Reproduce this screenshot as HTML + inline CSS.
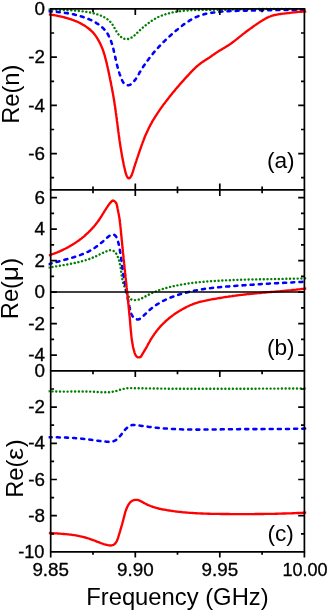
<!DOCTYPE html>
<html><head><meta charset="utf-8"><title>Re(n), Re(mu), Re(eps) vs Frequency</title>
<style>
html,body{margin:0;padding:0;background:#fff;}
body{width:327px;height:610px;overflow:hidden;position:relative;font-family:"Liberation Sans",sans-serif;}
</style></head><body>
<svg width="327" height="610" viewBox="0 0 327 610" style="display:block;position:absolute;left:0;top:0;will-change:transform">
<rect width="327" height="610" fill="#fff"/>
<clipPath id="clipa"><rect x="48.6" y="6.9" width="257.9" height="184.9"/></clipPath>
<clipPath id="clipb"><rect x="48.6" y="187.8" width="257.9" height="185.09999999999997"/></clipPath>
<clipPath id="clipc"><rect x="48.6" y="368.9" width="257.9" height="185.0"/></clipPath>
<g clip-path="url(#clipa)" fill="none" stroke-linejoin="round">
<path d="M48.7,9.5 L50.7,9.6 L51.9,9.6 L53.1,9.7 L54.3,9.7 L55.5,9.8 L56.7,9.8 L57.9,9.9 L59.1,9.9 L60.3,9.9 L61.5,10.0 L62.7,10.0 L63.9,10.0 L65.1,10.1 L66.3,10.1 L67.5,10.2 L68.7,10.2 L69.8,10.3 L71.0,10.3 L72.2,10.4 L73.4,10.5 L74.6,10.6 L75.8,10.7 L76.9,10.8 L78.1,10.9 L79.3,11.0 L80.5,11.1 L81.7,11.2 L82.9,11.4 L84.1,11.5 L85.2,11.7 L86.4,11.9 L87.6,12.1 L88.8,12.3 L90.0,12.5 L91.2,12.8 L92.4,13.0 L93.6,13.3 L94.8,13.6 L96.0,13.9 L97.1,14.3 L98.3,14.6 L99.4,15.0 L100.5,15.5 L101.6,15.9 L102.7,16.4 L103.8,17.0 L104.8,17.5 L105.8,18.2 L106.8,18.8 L107.7,19.5 L108.6,20.2 L109.5,21.0 L110.3,21.8 L111.1,22.7 L111.8,23.7 L112.5,24.6 L113.1,25.7 L113.8,26.7 L114.4,27.8 L115.0,28.9 L115.6,30.0 L116.2,31.0 L116.8,32.1 L117.5,33.1 L118.2,34.1 L119.0,35.0 L119.8,35.9 L120.6,36.7 L121.6,37.4 L122.6,38.1 L123.7,38.6 L124.8,39.0 L126.0,39.2 L127.2,39.2 L128.4,39.0 L129.5,38.6 L130.6,38.1 L131.7,37.5 L132.7,36.9 L133.6,36.1 L134.5,35.4 L135.4,34.6 L136.3,33.7 L137.1,32.9 L138.0,32.1 L138.9,31.3 L139.8,30.4 L140.6,29.6 L141.5,28.8 L142.4,28.0 L143.3,27.2 L144.3,26.4 L145.2,25.6 L146.1,24.9 L147.1,24.1 L148.0,23.4 L149.0,22.7 L149.9,22.0 L150.9,21.3 L151.9,20.6 L152.9,20.0 L153.9,19.4 L155.0,18.8 L156.0,18.2 L157.1,17.6 L158.1,17.1 L159.2,16.6 L160.3,16.1 L161.4,15.7 L162.5,15.3 L163.7,14.9 L164.8,14.5 L165.9,14.1 L167.1,13.8 L168.2,13.5 L169.4,13.2 L170.6,12.9 L171.7,12.6 L172.9,12.3 L174.1,12.1 L175.3,11.9 L176.4,11.7 L177.6,11.5 L178.8,11.3 L180.0,11.2 L181.2,11.0 L182.4,10.9 L183.6,10.8 L184.8,10.7 L186.0,10.6 L187.1,10.5 L188.3,10.4 L189.5,10.3 L190.7,10.3 L191.9,10.2 L193.1,10.1 L194.3,10.1 L195.5,10.1 L196.7,10.0 L197.9,10.0 L199.1,10.0 L200.3,10.0 L201.5,10.0 L202.7,9.9 L203.9,9.9 L205.1,9.9 L206.3,9.9 L207.5,9.9 L208.7,9.9 L209.9,9.9 L211.1,9.9 L212.3,9.9 L213.5,9.8 L214.7,9.8 L215.8,9.8 L217.0,9.8 L218.2,9.8 L219.4,9.8 L220.6,9.7 L221.8,9.7 L223.0,9.7 L224.2,9.7 L225.4,9.7 L226.6,9.6 L227.8,9.6 L229.0,9.6 L230.2,9.6 L231.4,9.6 L232.6,9.5 L233.8,9.5 L235.0,9.5 L236.2,9.5 L237.4,9.4 L238.6,9.4 L239.8,9.4 L241.0,9.4 L242.2,9.3 L243.4,9.3 L244.6,9.3 L245.8,9.3 L247.0,9.2 L248.2,9.2 L249.3,9.2 L250.5,9.2 L251.7,9.2 L252.9,9.1 L254.1,9.1 L255.3,9.1 L256.5,9.1 L257.7,9.1 L258.9,9.0 L260.1,9.0 L261.3,9.0 L262.5,9.0 L263.7,9.0 L264.9,9.0 L266.1,9.0 L267.3,8.9 L268.5,8.9 L269.7,8.9 L270.9,8.9 L272.1,8.9 L273.3,8.9 L274.5,8.9 L275.7,8.9 L276.9,8.9 L278.1,8.9 L279.3,8.9 L280.5,8.9 L281.7,8.9 L282.8,8.9 L284.0,9.0 L285.2,9.0 L286.4,9.0 L287.6,9.0 L288.8,9.0 L290.0,9.0 L291.2,9.1 L292.4,9.1 L293.6,9.1 L294.8,9.2 L296.0,9.2 L297.2,9.2 L298.4,9.3 L299.6,9.3 L300.8,9.4 L302.0,9.4 L303.2,9.4 L304.4,9.5 L306.4,9.6" stroke="#008000" stroke-width="2.4" stroke-dasharray="0.1 3.67" stroke-linecap="round"/>
<path d="M48.7,11.3 L50.7,11.5 L51.9,11.6 L53.1,11.6 L54.3,11.7 L55.5,11.8 L56.7,12.0 L57.9,12.1 L59.1,12.2 L60.3,12.3 L61.4,12.5 L62.6,12.6 L63.8,12.7 L65.0,12.9 L66.2,13.1 L67.4,13.3 L68.6,13.5 L69.7,13.7 L70.9,13.9 L72.1,14.1 L73.3,14.3 L74.4,14.6 L75.6,14.9 L76.8,15.1 L77.9,15.4 L79.1,15.7 L80.2,16.1 L81.4,16.4 L82.5,16.8 L83.7,17.2 L84.8,17.6 L85.9,18.0 L87.0,18.4 L88.2,18.9 L89.3,19.3 L90.4,19.8 L91.5,20.3 L92.6,20.9 L93.6,21.4 L94.7,22.0 L95.7,22.6 L96.8,23.3 L97.8,23.9 L98.8,24.6 L99.7,25.3 L100.7,26.1 L101.6,26.8 L102.5,27.6 L103.3,28.4 L104.2,29.3 L104.9,30.2 L105.7,31.1 L106.4,32.0 L107.1,33.0 L107.7,34.0 L108.3,35.0 L108.8,36.1 L109.4,37.1 L109.9,38.2 L110.3,39.3 L110.8,40.5 L111.2,41.6 L111.6,42.8 L112.0,44.0 L112.3,45.1 L112.6,46.3 L113.0,47.5 L113.3,48.7 L113.6,49.9 L113.8,51.1 L114.1,52.3 L114.4,53.4 L114.6,54.6 L114.9,55.8 L115.2,56.9 L115.4,58.1 L115.7,59.2 L115.9,60.4 L116.2,61.5 L116.5,62.6 L116.7,63.8 L117.0,64.9 L117.3,66.0 L117.6,67.2 L117.9,68.3 L118.2,69.5 L118.6,70.6 L118.9,71.7 L119.3,72.9 L119.7,74.1 L120.1,75.2 L120.5,76.4 L121.0,77.6 L121.4,78.8 L121.9,80.0 L122.5,81.1 L123.1,82.2 L123.8,83.2 L124.6,84.0 L125.5,84.7 L126.5,85.1 L127.6,85.3 L128.7,85.3 L129.7,84.9 L130.8,84.4 L131.8,83.6 L132.7,82.7 L133.5,81.8 L134.3,80.9 L135.1,79.9 L135.8,78.9 L136.4,77.9 L137.0,76.9 L137.7,75.8 L138.3,74.8 L138.9,73.8 L139.5,72.7 L140.1,71.7 L140.8,70.7 L141.4,69.7 L142.0,68.6 L142.7,67.6 L143.3,66.6 L144.0,65.6 L144.7,64.6 L145.4,63.6 L146.0,62.6 L146.7,61.6 L147.4,60.7 L148.2,59.7 L148.9,58.7 L149.6,57.8 L150.3,56.8 L151.1,55.9 L151.8,55.0 L152.6,54.1 L153.3,53.1 L154.1,52.2 L154.9,51.3 L155.7,50.4 L156.4,49.5 L157.2,48.6 L158.0,47.8 L158.8,46.9 L159.7,46.0 L160.5,45.1 L161.3,44.3 L162.1,43.4 L163.0,42.6 L163.8,41.7 L164.7,40.9 L165.5,40.1 L166.4,39.2 L167.3,38.4 L168.1,37.6 L169.0,36.8 L169.9,36.0 L170.8,35.2 L171.7,34.4 L172.6,33.6 L173.5,32.8 L174.4,32.0 L175.3,31.2 L176.2,30.4 L177.2,29.7 L178.1,28.9 L179.0,28.1 L180.0,27.4 L180.9,26.6 L181.9,25.9 L182.8,25.1 L183.8,24.4 L184.8,23.7 L185.8,23.0 L186.8,22.4 L187.8,21.7 L188.8,21.1 L189.8,20.4 L190.8,19.8 L191.9,19.2 L192.9,18.7 L194.0,18.1 L195.0,17.6 L196.1,17.1 L197.2,16.6 L198.3,16.2 L199.4,15.7 L200.5,15.3 L201.6,15.0 L202.8,14.6 L203.9,14.3 L205.1,14.0 L206.3,13.7 L207.4,13.5 L208.6,13.3 L209.8,13.1 L211.0,12.9 L212.2,12.7 L213.4,12.5 L214.6,12.4 L215.8,12.2 L217.0,12.1 L218.2,12.0 L219.4,11.8 L220.6,11.7 L221.8,11.6 L223.0,11.5 L224.2,11.5 L225.4,11.4 L226.6,11.3 L227.8,11.2 L228.9,11.2 L230.1,11.1 L231.3,11.0 L232.5,11.0 L233.7,10.9 L234.9,10.9 L236.1,10.9 L237.3,10.8 L238.5,10.8 L239.7,10.7 L240.9,10.7 L242.1,10.7 L243.3,10.6 L244.5,10.6 L245.7,10.6 L246.9,10.6 L248.1,10.5 L249.3,10.5 L250.5,10.5 L251.7,10.4 L252.9,10.4 L254.1,10.4 L255.3,10.4 L256.5,10.3 L257.7,10.3 L258.9,10.3 L260.0,10.3 L261.2,10.3 L262.4,10.2 L263.6,10.2 L264.8,10.2 L266.0,10.2 L267.2,10.2 L268.4,10.1 L269.6,10.1 L270.8,10.1 L272.0,10.1 L273.2,10.1 L274.4,10.1 L275.6,10.1 L276.8,10.0 L278.0,10.0 L279.2,10.0 L280.4,10.0 L281.6,10.0 L282.8,10.0 L284.0,10.0 L285.2,9.9 L286.4,9.9 L287.6,9.9 L288.8,9.9 L290.0,9.9 L291.2,9.9 L292.4,9.9 L293.6,9.9 L294.8,9.9 L296.0,9.9 L297.2,9.9 L298.4,9.8 L299.6,9.8 L300.8,9.8 L302.0,9.8 L303.2,9.8 L304.4,9.8 L306.4,9.8" stroke="#0000ff" stroke-width="2.55" stroke-dasharray="3.0 5.15" stroke-linecap="round"/>
<path d="M48.7,14.4 L50.7,14.7 L51.9,14.9 L53.1,15.0 L54.2,15.2 L55.4,15.4 L56.6,15.6 L57.8,15.9 L59.0,16.1 L60.1,16.3 L61.3,16.6 L62.5,16.9 L63.6,17.2 L64.8,17.5 L66.0,17.8 L67.1,18.1 L68.3,18.5 L69.4,18.8 L70.6,19.2 L71.7,19.6 L72.8,20.0 L73.9,20.4 L75.1,20.9 L76.2,21.3 L77.3,21.8 L78.4,22.3 L79.4,22.8 L80.5,23.4 L81.6,23.9 L82.6,24.5 L83.7,25.1 L84.7,25.7 L85.7,26.4 L86.7,27.1 L87.6,27.8 L88.6,28.5 L89.5,29.2 L90.4,30.0 L91.3,30.8 L92.1,31.7 L93.0,32.5 L93.8,33.4 L94.5,34.4 L95.3,35.3 L96.0,36.3 L96.7,37.3 L97.3,38.3 L97.9,39.4 L98.5,40.4 L99.1,41.5 L99.7,42.6 L100.2,43.6 L100.7,44.7 L101.2,45.8 L101.7,46.9 L102.1,48.0 L102.6,49.1 L103.0,50.2 L103.4,51.4 L103.7,52.5 L104.1,53.6 L104.5,54.8 L104.8,55.9 L105.1,57.1 L105.4,58.2 L105.7,59.4 L106.0,60.5 L106.3,61.7 L106.6,62.9 L106.9,64.0 L107.1,65.2 L107.4,66.4 L107.7,67.5 L107.9,68.7 L108.2,69.9 L108.4,71.1 L108.7,72.2 L108.9,73.4 L109.2,74.6 L109.4,75.8 L109.7,76.9 L109.9,78.1 L110.1,79.3 L110.4,80.5 L110.6,81.6 L110.9,82.8 L111.1,84.0 L111.3,85.2 L111.6,86.4 L111.8,87.5 L112.0,88.7 L112.2,89.9 L112.4,91.1 L112.7,92.2 L112.9,93.4 L113.1,94.6 L113.3,95.8 L113.5,97.0 L113.7,98.1 L113.9,99.3 L114.1,100.5 L114.3,101.7 L114.5,102.9 L114.6,104.1 L114.8,105.2 L115.0,106.4 L115.2,107.6 L115.3,108.8 L115.5,110.0 L115.7,111.2 L115.8,112.4 L116.0,113.5 L116.2,114.7 L116.3,115.9 L116.5,117.1 L116.6,118.3 L116.8,119.5 L116.9,120.7 L117.1,121.9 L117.3,123.0 L117.4,124.2 L117.6,125.4 L117.7,126.6 L117.9,127.8 L118.0,129.0 L118.2,130.2 L118.3,131.4 L118.5,132.5 L118.7,133.7 L118.8,134.9 L119.0,136.1 L119.1,137.3 L119.3,138.5 L119.5,139.7 L119.6,140.9 L119.8,142.0 L120.0,143.2 L120.2,144.4 L120.3,145.6 L120.5,146.8 L120.7,148.0 L120.9,149.1 L121.1,150.3 L121.3,151.5 L121.5,152.7 L121.7,153.9 L121.9,155.1 L122.1,156.2 L122.3,157.4 L122.5,158.6 L122.8,159.8 L123.0,161.0 L123.2,162.1 L123.5,163.3 L123.7,164.5 L124.0,165.7 L124.2,166.8 L124.5,168.0 L124.8,169.2 L125.0,170.4 L125.3,171.5 L125.6,172.7 L126.0,173.9 L126.4,175.0 L126.9,176.2 L127.5,177.3 L128.3,178.1 L129.0,178.4 L129.8,178.0 L130.5,177.1 L131.2,176.0 L131.8,174.9 L132.2,173.7 L132.6,172.5 L133.0,171.4 L133.3,170.2 L133.7,169.0 L134.0,167.8 L134.4,166.7 L134.8,165.6 L135.1,164.4 L135.5,163.3 L135.9,162.2 L136.3,161.0 L136.6,159.9 L137.0,158.8 L137.4,157.7 L137.8,156.5 L138.2,155.4 L138.5,154.3 L138.9,153.1 L139.3,152.0 L139.7,150.9 L140.1,149.7 L140.5,148.6 L140.9,147.5 L141.3,146.3 L141.7,145.2 L142.1,144.1 L142.5,142.9 L142.9,141.8 L143.4,140.7 L143.8,139.6 L144.2,138.5 L144.7,137.3 L145.1,136.2 L145.6,135.1 L146.1,134.0 L146.6,132.9 L147.1,131.8 L147.6,130.7 L148.1,129.7 L148.6,128.6 L149.1,127.5 L149.7,126.4 L150.2,125.4 L150.8,124.3 L151.4,123.3 L151.9,122.2 L152.5,121.2 L153.1,120.2 L153.8,119.1 L154.4,118.1 L155.0,117.1 L155.6,116.1 L156.3,115.1 L156.9,114.1 L157.6,113.1 L158.3,112.1 L158.9,111.1 L159.6,110.1 L160.3,109.1 L161.0,108.1 L161.7,107.1 L162.4,106.2 L163.1,105.2 L163.8,104.2 L164.6,103.3 L165.3,102.3 L166.0,101.4 L166.7,100.4 L167.5,99.5 L168.2,98.5 L168.9,97.6 L169.7,96.6 L170.4,95.7 L171.2,94.8 L171.9,93.8 L172.7,92.9 L173.4,92.0 L174.2,91.1 L175.0,90.2 L175.7,89.2 L176.5,88.3 L177.3,87.4 L178.1,86.5 L178.9,85.6 L179.6,84.7 L180.4,83.8 L181.2,82.9 L182.0,82.0 L182.8,81.1 L183.6,80.2 L184.4,79.3 L185.2,78.4 L186.0,77.5 L186.8,76.6 L187.6,75.8 L188.5,74.9 L189.3,74.0 L190.1,73.1 L190.9,72.2 L191.7,71.4 L192.6,70.5 L193.4,69.6 L194.3,68.8 L195.1,68.0 L196.0,67.1 L196.9,66.3 L197.8,65.6 L198.7,64.8 L199.7,64.1 L200.6,63.3 L201.6,62.6 L202.6,62.0 L203.6,61.3 L204.6,60.6 L205.6,60.0 L206.6,59.3 L207.6,58.7 L208.6,58.0 L209.6,57.4 L210.6,56.7 L211.6,56.0 L212.6,55.3 L213.6,54.6 L214.5,54.0 L215.5,53.3 L216.5,52.6 L217.5,51.9 L218.5,51.3 L219.5,50.6 L220.6,50.0 L221.6,49.4 L222.6,48.8 L223.6,48.2 L224.7,47.6 L225.7,47.0 L226.7,46.3 L227.7,45.7 L228.8,45.1 L229.7,44.4 L230.7,43.7 L231.7,43.0 L232.7,42.3 L233.6,41.6 L234.6,40.8 L235.5,40.1 L236.5,39.4 L237.4,38.6 L238.3,37.9 L239.3,37.1 L240.2,36.4 L241.2,35.6 L242.1,34.9 L243.0,34.1 L244.0,33.4 L244.9,32.7 L245.9,31.9 L246.8,31.2 L247.8,30.5 L248.8,29.8 L249.7,29.1 L250.7,28.4 L251.7,27.7 L252.6,27.0 L253.6,26.3 L254.6,25.6 L255.6,24.9 L256.6,24.2 L257.6,23.6 L258.6,22.9 L259.6,22.2 L260.6,21.6 L261.6,20.9 L262.6,20.3 L263.6,19.7 L264.7,19.1 L265.7,18.5 L266.8,17.9 L267.9,17.4 L268.9,16.9 L270.0,16.5 L271.2,16.0 L272.3,15.7 L273.4,15.3 L274.6,15.0 L275.8,14.8 L276.9,14.6 L278.1,14.4 L279.3,14.2 L280.5,14.0 L281.7,13.9 L282.9,13.7 L284.1,13.6 L285.3,13.4 L286.5,13.3 L287.7,13.1 L288.9,13.0 L290.1,12.8 L291.3,12.7 L292.5,12.5 L293.6,12.4 L294.8,12.3 L296.0,12.1 L297.2,12.0 L298.4,11.9 L299.6,11.8 L300.8,11.7 L302.0,11.7 L303.2,11.6 L304.4,11.6 L306.4,11.5" stroke="#ff0000" stroke-width="2.35"/>
</g>
<g clip-path="url(#clipb)" fill="none" stroke-linejoin="round">
<path d="M48.7,267.6 L50.7,267.3 L51.9,267.1 L53.0,266.9 L54.2,266.7 L55.4,266.5 L56.6,266.3 L57.8,266.1 L58.9,265.9 L60.1,265.7 L61.3,265.5 L62.5,265.3 L63.7,265.1 L64.9,264.9 L66.0,264.7 L67.2,264.5 L68.4,264.3 L69.6,264.1 L70.8,263.8 L72.0,263.6 L73.1,263.4 L74.3,263.1 L75.5,262.9 L76.7,262.6 L77.8,262.3 L79.0,262.0 L80.2,261.7 L81.3,261.4 L82.5,261.1 L83.6,260.8 L84.8,260.5 L85.9,260.1 L87.1,259.7 L88.2,259.4 L89.3,259.0 L90.4,258.6 L91.5,258.1 L92.6,257.7 L93.7,257.2 L94.8,256.8 L95.9,256.3 L97.0,255.8 L98.1,255.3 L99.1,254.7 L100.2,254.2 L101.3,253.7 L102.4,253.1 L103.5,252.6 L104.6,252.1 L105.8,251.6 L106.9,251.1 L108.1,250.7 L109.2,250.3 L110.4,250.2 L111.5,250.2 L112.6,250.4 L113.6,250.9 L114.5,251.6 L115.4,252.5 L116.1,253.4 L116.8,254.5 L117.3,255.6 L117.8,256.8 L118.2,257.9 L118.6,259.1 L119.0,260.2 L119.3,261.4 L119.6,262.6 L119.8,263.7 L120.1,264.9 L120.3,266.1 L120.5,267.2 L120.7,268.4 L120.8,269.6 L121.0,270.8 L121.2,271.9 L121.4,273.1 L121.5,274.3 L121.7,275.5 L121.9,276.7 L122.1,277.9 L122.3,279.1 L122.6,280.2 L122.8,281.4 L123.1,282.6 L123.4,283.7 L123.7,284.9 L124.1,286.0 L124.5,287.1 L124.9,288.2 L125.3,289.3 L125.8,290.4 L126.3,291.5 L126.8,292.6 L127.3,293.7 L127.8,294.9 L128.4,296.1 L129.0,297.2 L129.7,298.2 L130.5,299.0 L131.5,299.5 L132.6,299.9 L133.7,300.1 L134.9,300.1 L136.1,300.1 L137.2,299.9 L138.4,299.6 L139.5,299.3 L140.6,298.8 L141.7,298.4 L142.8,297.8 L143.9,297.3 L144.9,296.7 L146.0,296.1 L147.1,295.6 L148.1,295.0 L149.2,294.4 L150.3,293.9 L151.4,293.4 L152.5,292.9 L153.6,292.4 L154.7,291.9 L155.8,291.5 L156.9,291.0 L158.0,290.6 L159.1,290.2 L160.3,289.8 L161.4,289.4 L162.6,289.0 L163.7,288.7 L164.9,288.3 L166.0,288.0 L167.2,287.7 L168.3,287.4 L169.5,287.1 L170.6,286.8 L171.8,286.5 L173.0,286.3 L174.2,286.0 L175.3,285.8 L176.5,285.5 L177.7,285.3 L178.9,285.1 L180.0,284.9 L181.2,284.6 L182.4,284.4 L183.6,284.2 L184.8,284.1 L186.0,283.9 L187.1,283.7 L188.3,283.5 L189.5,283.4 L190.7,283.2 L191.9,283.0 L193.1,282.9 L194.3,282.7 L195.5,282.6 L196.6,282.5 L197.8,282.3 L199.0,282.2 L200.2,282.1 L201.4,282.0 L202.6,281.9 L203.8,281.8 L205.0,281.7 L206.2,281.6 L207.4,281.5 L208.6,281.4 L209.8,281.3 L211.0,281.2 L212.2,281.1 L213.3,281.0 L214.5,281.0 L215.7,280.9 L216.9,280.8 L218.1,280.7 L219.3,280.7 L220.5,280.6 L221.7,280.5 L222.9,280.5 L224.1,280.4 L225.3,280.4 L226.5,280.3 L227.7,280.3 L228.9,280.2 L230.1,280.2 L231.3,280.1 L232.5,280.1 L233.7,280.0 L234.9,280.0 L236.1,279.9 L237.3,279.9 L238.5,279.8 L239.7,279.8 L240.9,279.8 L242.1,279.7 L243.3,279.7 L244.5,279.7 L245.7,279.6 L246.9,279.6 L248.1,279.6 L249.3,279.5 L250.5,279.5 L251.7,279.5 L252.9,279.4 L254.1,279.4 L255.3,279.4 L256.5,279.4 L257.7,279.3 L258.9,279.3 L260.1,279.3 L261.3,279.3 L262.5,279.3 L263.7,279.2 L264.9,279.2 L266.1,279.2 L267.3,279.2 L268.5,279.1 L269.7,279.1 L270.9,279.1 L272.1,279.1 L273.3,279.1 L274.4,279.0 L275.6,279.0 L276.8,279.0 L278.0,279.0 L279.2,279.0 L280.4,278.9 L281.6,278.9 L282.8,278.9 L284.0,278.9 L285.2,278.8 L286.4,278.8 L287.6,278.8 L288.8,278.8 L290.0,278.8 L291.2,278.7 L292.4,278.7 L293.6,278.7 L294.8,278.6 L296.0,278.6 L297.2,278.6 L298.4,278.6 L299.6,278.5 L300.8,278.5 L302.0,278.5 L303.2,278.4 L304.4,278.4 L306.4,278.3" stroke="#008000" stroke-width="2.4" stroke-dasharray="0.1 3.67" stroke-linecap="round"/>
<path d="M48.7,264.2 L50.7,263.6 L51.9,263.3 L53.0,263.0 L54.1,262.6 L55.3,262.3 L56.4,262.0 L57.5,261.7 L58.7,261.4 L59.9,261.1 L61.0,260.8 L62.2,260.4 L63.3,260.1 L64.5,259.8 L65.7,259.5 L66.9,259.2 L68.0,258.9 L69.2,258.6 L70.4,258.2 L71.5,257.9 L72.7,257.5 L73.8,257.2 L75.0,256.8 L76.1,256.5 L77.3,256.1 L78.4,255.7 L79.6,255.3 L80.7,254.9 L81.8,254.4 L82.9,254.0 L84.0,253.5 L85.1,253.1 L86.2,252.6 L87.3,252.1 L88.4,251.6 L89.4,251.0 L90.5,250.5 L91.5,249.9 L92.5,249.3 L93.5,248.6 L94.5,248.0 L95.5,247.3 L96.4,246.6 L97.4,245.9 L98.3,245.2 L99.3,244.5 L100.2,243.7 L101.1,242.9 L102.0,242.2 L103.0,241.4 L103.9,240.6 L104.8,239.8 L105.7,239.0 L106.7,238.1 L107.6,237.3 L108.5,236.5 L109.5,235.8 L110.5,235.1 L111.6,234.7 L112.7,234.5 L113.8,234.7 L114.8,235.2 L115.6,236.0 L116.3,237.0 L116.8,238.1 L117.3,239.3 L117.7,240.4 L118.0,241.6 L118.4,242.8 L118.6,243.9 L118.9,245.1 L119.1,246.3 L119.4,247.5 L119.6,248.7 L119.8,249.8 L120.0,251.0 L120.2,252.2 L120.4,253.4 L120.6,254.6 L120.8,255.8 L120.9,256.9 L121.1,258.1 L121.3,259.3 L121.4,260.5 L121.6,261.7 L121.7,262.9 L121.9,264.0 L122.0,265.2 L122.2,266.4 L122.4,267.6 L122.5,268.8 L122.7,270.0 L122.9,271.1 L123.1,272.3 L123.2,273.5 L123.4,274.7 L123.6,275.9 L123.8,277.1 L124.0,278.2 L124.2,279.4 L124.4,280.6 L124.6,281.8 L124.8,283.0 L125.0,284.2 L125.2,285.3 L125.4,286.5 L125.6,287.7 L125.9,288.9 L126.1,290.1 L126.3,291.2 L126.5,292.4 L126.8,293.6 L127.0,294.8 L127.2,295.9 L127.5,297.1 L127.7,298.3 L128.0,299.5 L128.2,300.6 L128.4,301.8 L128.7,303.0 L128.9,304.1 L129.2,305.3 L129.4,306.5 L129.7,307.6 L129.9,308.8 L130.2,310.0 L130.5,311.1 L130.8,312.3 L131.1,313.4 L131.6,314.5 L132.2,315.6 L132.9,316.7 L133.8,317.6 L134.7,318.5 L135.8,319.1 L136.9,319.4 L138.0,319.5 L139.1,319.3 L140.1,318.8 L141.1,318.1 L142.0,317.3 L142.9,316.4 L143.8,315.5 L144.7,314.6 L145.6,313.8 L146.4,312.9 L147.3,312.1 L148.2,311.3 L149.0,310.5 L149.9,309.7 L150.8,308.9 L151.7,308.2 L152.7,307.5 L153.6,306.8 L154.6,306.1 L155.6,305.4 L156.6,304.7 L157.6,304.1 L158.6,303.5 L159.6,302.9 L160.7,302.3 L161.7,301.7 L162.8,301.1 L163.8,300.6 L164.9,300.1 L166.0,299.6 L167.1,299.1 L168.2,298.6 L169.3,298.1 L170.4,297.6 L171.5,297.2 L172.7,296.8 L173.8,296.3 L174.9,295.9 L176.1,295.5 L177.2,295.1 L178.3,294.8 L179.5,294.4 L180.6,294.1 L181.8,293.7 L183.0,293.4 L184.1,293.1 L185.3,292.8 L186.4,292.5 L187.6,292.2 L188.8,291.9 L189.9,291.6 L191.1,291.4 L192.3,291.1 L193.4,290.9 L194.6,290.6 L195.8,290.4 L196.9,290.2 L198.1,290.0 L199.3,289.7 L200.5,289.6 L201.7,289.4 L202.8,289.2 L204.0,289.0 L205.2,288.8 L206.4,288.7 L207.6,288.5 L208.8,288.3 L209.9,288.2 L211.1,288.1 L212.3,287.9 L213.5,287.8 L214.7,287.7 L215.9,287.5 L217.1,287.4 L218.3,287.3 L219.5,287.2 L220.7,287.1 L221.9,287.0 L223.1,286.8 L224.2,286.7 L225.4,286.6 L226.6,286.5 L227.8,286.5 L229.0,286.4 L230.2,286.3 L231.4,286.2 L232.6,286.1 L233.8,286.0 L235.0,285.9 L236.2,285.8 L237.4,285.7 L238.6,285.6 L239.8,285.6 L241.0,285.5 L242.2,285.4 L243.4,285.3 L244.6,285.2 L245.8,285.1 L247.0,285.1 L248.2,285.0 L249.4,284.9 L250.6,284.8 L251.8,284.7 L252.9,284.7 L254.1,284.6 L255.3,284.5 L256.5,284.4 L257.7,284.3 L258.9,284.3 L260.1,284.2 L261.3,284.1 L262.5,284.0 L263.7,284.0 L264.9,283.9 L266.1,283.8 L267.3,283.8 L268.5,283.7 L269.7,283.6 L270.9,283.5 L272.1,283.5 L273.3,283.4 L274.5,283.3 L275.7,283.3 L276.9,283.2 L278.1,283.1 L279.3,283.1 L280.5,283.0 L281.7,282.9 L282.9,282.9 L284.1,282.8 L285.3,282.7 L286.4,282.7 L287.6,282.6 L288.8,282.5 L290.0,282.5 L291.2,282.4 L292.4,282.4 L293.6,282.3 L294.8,282.2 L296.0,282.2 L297.2,282.1 L298.4,282.1 L299.6,282.0 L300.8,282.0 L302.0,281.9 L303.2,281.8 L304.4,281.8 L306.4,281.7" stroke="#0000ff" stroke-width="2.55" stroke-dasharray="3.0 5.15" stroke-linecap="round"/>
<path d="M48.7,255.4 L50.7,254.8 L51.8,254.4 L52.9,254.0 L54.1,253.6 L55.2,253.2 L56.3,252.7 L57.4,252.3 L58.5,251.8 L59.6,251.4 L60.7,250.9 L61.8,250.4 L62.9,249.9 L64.0,249.3 L65.1,248.8 L66.1,248.3 L67.2,247.7 L68.3,247.1 L69.3,246.5 L70.3,245.9 L71.4,245.3 L72.4,244.7 L73.4,244.1 L74.4,243.4 L75.4,242.8 L76.4,242.1 L77.4,241.4 L78.4,240.7 L79.4,240.0 L80.3,239.3 L81.3,238.6 L82.2,237.8 L83.1,237.1 L84.1,236.3 L85.0,235.5 L85.9,234.7 L86.7,233.9 L87.6,233.1 L88.5,232.3 L89.3,231.4 L90.2,230.6 L91.0,229.7 L91.8,228.9 L92.6,228.0 L93.4,227.1 L94.2,226.2 L95.0,225.3 L95.7,224.3 L96.5,223.4 L97.2,222.4 L97.9,221.5 L98.6,220.5 L99.3,219.5 L100.0,218.5 L100.6,217.5 L101.3,216.5 L101.9,215.5 L102.5,214.4 L103.2,213.4 L103.8,212.4 L104.4,211.4 L105.0,210.3 L105.7,209.3 L106.3,208.3 L107.0,207.3 L107.7,206.3 L108.3,205.3 L109.1,204.4 L109.8,203.4 L110.6,202.5 L111.4,201.6 L112.2,200.8 L113.2,200.5 L114.3,201.0 L115.3,201.9 L116.1,202.9 L116.6,204.0 L116.9,205.2 L117.2,206.4 L117.4,207.6 L117.6,208.8 L117.9,210.0 L118.1,211.1 L118.3,212.3 L118.6,213.5 L118.8,214.6 L119.0,215.8 L119.2,217.0 L119.4,218.1 L119.6,219.3 L119.7,220.5 L119.9,221.7 L120.0,222.9 L120.2,224.1 L120.3,225.2 L120.4,226.4 L120.6,227.6 L120.7,228.8 L120.8,230.0 L120.9,231.2 L121.0,232.4 L121.1,233.6 L121.2,234.8 L121.4,236.0 L121.5,237.2 L121.6,238.4 L121.7,239.6 L121.8,240.8 L122.0,242.0 L122.1,243.2 L122.2,244.4 L122.3,245.6 L122.4,246.8 L122.5,248.0 L122.7,249.1 L122.8,250.3 L122.9,251.5 L123.0,252.7 L123.2,253.9 L123.3,255.1 L123.4,256.3 L123.5,257.5 L123.6,258.7 L123.8,259.9 L123.9,261.0 L124.0,262.2 L124.1,263.4 L124.3,264.6 L124.4,265.8 L124.5,267.0 L124.6,268.2 L124.8,269.4 L124.9,270.6 L125.0,271.7 L125.1,272.9 L125.3,274.1 L125.4,275.3 L125.5,276.5 L125.6,277.7 L125.8,278.9 L125.9,280.1 L126.0,281.3 L126.1,282.5 L126.3,283.7 L126.4,284.8 L126.5,286.0 L126.6,287.2 L126.8,288.4 L126.9,289.6 L127.0,290.8 L127.1,292.0 L127.3,293.2 L127.4,294.4 L127.5,295.6 L127.6,296.8 L127.8,298.0 L127.9,299.2 L128.0,300.4 L128.1,301.6 L128.2,302.8 L128.4,304.0 L128.5,305.2 L128.6,306.4 L128.7,307.6 L128.8,308.8 L129.0,309.9 L129.1,311.1 L129.2,312.3 L129.3,313.5 L129.4,314.7 L129.5,315.9 L129.7,317.1 L129.8,318.3 L129.9,319.5 L130.0,320.7 L130.1,321.9 L130.2,323.0 L130.3,324.2 L130.4,325.4 L130.5,326.6 L130.6,327.8 L130.7,329.0 L130.8,330.1 L130.9,331.3 L131.0,332.5 L131.2,333.7 L131.3,334.8 L131.4,336.0 L131.5,337.2 L131.7,338.4 L131.8,339.6 L132.0,340.8 L132.2,342.0 L132.4,343.1 L132.6,344.3 L132.8,345.5 L133.0,346.7 L133.3,348.0 L133.6,349.2 L133.9,350.4 L134.3,351.6 L134.6,352.8 L135.0,354.0 L135.6,355.1 L136.2,356.0 L136.9,356.8 L137.8,357.3 L139.0,357.4 L140.1,357.2 L141.0,356.5 L141.7,355.4 L142.4,354.2 L143.0,353.1 L143.6,352.1 L144.2,351.1 L144.8,350.1 L145.4,349.1 L146.0,348.1 L146.6,347.1 L147.2,346.0 L147.7,345.0 L148.3,343.9 L148.9,342.8 L149.5,341.8 L150.1,340.7 L150.7,339.7 L151.3,338.7 L152.0,337.7 L152.6,336.6 L153.3,335.6 L154.0,334.7 L154.6,333.7 L155.4,332.7 L156.1,331.7 L156.8,330.8 L157.5,329.9 L158.3,328.9 L159.1,328.0 L159.8,327.1 L160.6,326.2 L161.4,325.4 L162.3,324.5 L163.1,323.6 L164.0,322.8 L164.8,322.0 L165.7,321.2 L166.6,320.4 L167.5,319.6 L168.4,318.8 L169.3,318.0 L170.3,317.3 L171.2,316.6 L172.2,315.8 L173.2,315.1 L174.1,314.4 L175.1,313.7 L176.1,313.1 L177.1,312.4 L178.2,311.8 L179.2,311.1 L180.2,310.5 L181.2,309.9 L182.3,309.3 L183.3,308.7 L184.4,308.1 L185.4,307.6 L186.5,307.0 L187.6,306.5 L188.7,306.0 L189.7,305.5 L190.8,305.0 L191.9,304.6 L193.0,304.1 L194.2,303.7 L195.3,303.3 L196.4,302.9 L197.6,302.6 L198.7,302.2 L199.8,301.9 L201.0,301.6 L202.2,301.3 L203.3,301.1 L204.5,300.8 L205.7,300.6 L206.9,300.3 L208.1,300.1 L209.2,299.9 L210.4,299.7 L211.6,299.4 L212.8,299.2 L214.0,299.0 L215.2,298.8 L216.3,298.6 L217.5,298.4 L218.7,298.2 L219.9,298.0 L221.1,297.8 L222.2,297.6 L223.4,297.4 L224.6,297.2 L225.8,297.0 L227.0,296.8 L228.2,296.7 L229.3,296.5 L230.5,296.3 L231.7,296.2 L232.9,296.0 L234.1,295.8 L235.3,295.7 L236.5,295.5 L237.6,295.4 L238.8,295.2 L240.0,295.1 L241.2,294.9 L242.4,294.8 L243.6,294.6 L244.8,294.5 L246.0,294.4 L247.2,294.2 L248.3,294.1 L249.5,294.0 L250.7,293.9 L251.9,293.8 L253.1,293.6 L254.3,293.5 L255.5,293.4 L256.7,293.3 L257.9,293.2 L259.1,293.1 L260.3,293.0 L261.5,292.9 L262.7,292.7 L263.9,292.6 L265.0,292.5 L266.2,292.4 L267.4,292.3 L268.6,292.2 L269.8,292.1 L271.0,292.0 L272.2,291.9 L273.4,291.8 L274.6,291.7 L275.8,291.6 L277.0,291.5 L278.2,291.4 L279.4,291.3 L280.6,291.2 L281.8,291.1 L283.0,291.0 L284.2,290.9 L285.3,290.7 L286.5,290.6 L287.7,290.5 L288.9,290.4 L290.1,290.3 L291.3,290.2 L292.5,290.0 L293.7,289.9 L294.9,289.8 L296.1,289.7 L297.3,289.5 L298.5,289.4 L299.6,289.3 L300.8,289.1 L302.0,289.0 L303.2,288.9 L304.4,288.7 L306.4,288.5" stroke="#ff0000" stroke-width="2.35"/>
</g>
<g clip-path="url(#clipc)" fill="none" stroke-linejoin="round">
<path d="M48.7,391.2 L50.7,391.3 L51.9,391.4 L53.1,391.4 L54.3,391.4 L55.5,391.5 L56.7,391.5 L57.9,391.5 L59.1,391.5 L60.3,391.6 L61.5,391.6 L62.7,391.6 L63.9,391.6 L65.1,391.6 L66.3,391.6 L67.5,391.6 L68.7,391.6 L69.9,391.5 L71.1,391.5 L72.3,391.5 L73.5,391.5 L74.7,391.5 L75.9,391.5 L77.1,391.5 L78.3,391.5 L79.5,391.5 L80.7,391.5 L81.9,391.5 L83.1,391.5 L84.3,391.5 L85.4,391.5 L86.6,391.5 L87.8,391.5 L89.0,391.6 L90.2,391.6 L91.5,391.7 L92.7,391.7 L93.9,391.8 L95.1,391.8 L96.3,391.9 L97.5,392.0 L98.7,392.0 L99.9,392.1 L101.1,392.2 L102.3,392.2 L103.5,392.3 L104.7,392.3 L105.9,392.3 L107.1,392.3 L108.3,392.2 L109.5,392.2 L110.7,392.1 L111.8,391.9 L113.0,391.7 L114.2,391.5 L115.3,391.2 L116.5,390.9 L117.6,390.5 L118.8,390.2 L119.9,389.8 L121.1,389.5 L122.2,389.2 L123.4,388.9 L124.6,388.7 L125.7,388.5 L126.9,388.3 L128.1,388.2 L129.3,388.2 L130.5,388.1 L131.7,388.1 L132.9,388.1 L134.1,388.2 L135.3,388.2 L136.5,388.2 L137.7,388.2 L138.9,388.2 L140.1,388.3 L141.3,388.3 L142.5,388.3 L143.7,388.3 L144.9,388.3 L146.1,388.4 L147.3,388.4 L148.5,388.4 L149.7,388.4 L150.9,388.4 L152.1,388.5 L153.3,388.5 L154.5,388.5 L155.7,388.5 L156.9,388.5 L158.1,388.6 L159.3,388.6 L160.5,388.6 L161.7,388.6 L162.9,388.6 L164.1,388.6 L165.3,388.6 L166.5,388.7 L167.7,388.7 L168.9,388.7 L170.1,388.7 L171.3,388.7 L172.5,388.7 L173.7,388.7 L174.9,388.7 L176.1,388.7 L177.3,388.8 L178.5,388.8 L179.7,388.8 L180.9,388.8 L182.1,388.8 L183.3,388.8 L184.5,388.8 L185.7,388.8 L186.9,388.8 L188.1,388.8 L189.3,388.8 L190.5,388.8 L191.7,388.8 L192.9,388.8 L194.1,388.8 L195.3,388.8 L196.5,388.8 L197.7,388.8 L198.9,388.8 L200.1,388.8 L201.3,388.8 L202.5,388.8 L203.7,388.8 L204.9,388.8 L206.1,388.8 L207.3,388.8 L208.5,388.8 L209.7,388.8 L210.9,388.8 L212.1,388.8 L213.3,388.8 L214.5,388.8 L215.7,388.8 L216.9,388.8 L218.1,388.8 L219.3,388.8 L220.5,388.8 L221.7,388.8 L222.9,388.8 L224.1,388.8 L225.3,388.8 L226.5,388.8 L227.7,388.8 L228.9,388.8 L230.0,388.8 L231.2,388.8 L232.4,388.8 L233.6,388.8 L234.8,388.8 L236.0,388.8 L237.2,388.8 L238.4,388.8 L239.6,388.7 L240.8,388.7 L242.0,388.7 L243.2,388.7 L244.4,388.7 L245.6,388.7 L246.8,388.7 L248.0,388.7 L249.2,388.7 L250.4,388.7 L251.6,388.7 L252.8,388.7 L254.0,388.7 L255.2,388.7 L256.4,388.7 L257.6,388.7 L258.8,388.6 L260.0,388.6 L261.2,388.6 L262.4,388.6 L263.6,388.6 L264.8,388.6 L266.0,388.6 L267.2,388.6 L268.4,388.6 L269.6,388.6 L270.8,388.6 L272.0,388.6 L273.2,388.6 L274.4,388.6 L275.6,388.6 L276.8,388.6 L278.0,388.6 L279.2,388.6 L280.4,388.5 L281.6,388.5 L282.8,388.5 L284.0,388.5 L285.2,388.5 L286.4,388.5 L287.6,388.5 L288.8,388.5 L290.0,388.5 L291.2,388.5 L292.4,388.5 L293.6,388.5 L294.8,388.5 L296.0,388.5 L297.2,388.5 L298.4,388.5 L299.6,388.5 L300.8,388.5 L302.0,388.5 L303.2,388.5 L304.4,388.5 L306.4,388.5" stroke="#008000" stroke-width="2.4" stroke-dasharray="0.1 3.67" stroke-linecap="round"/>
<path d="M48.7,437.3 L50.7,437.3 L51.9,437.3 L53.1,437.3 L54.3,437.3 L55.5,437.3 L56.7,437.3 L57.9,437.3 L59.1,437.4 L60.3,437.4 L61.5,437.4 L62.7,437.5 L63.9,437.5 L65.1,437.5 L66.2,437.6 L67.4,437.6 L68.6,437.7 L69.8,437.8 L71.0,437.8 L72.2,437.9 L73.4,438.0 L74.6,438.1 L75.8,438.2 L77.0,438.3 L78.2,438.4 L79.4,438.5 L80.6,438.6 L81.8,438.7 L82.9,438.8 L84.1,438.9 L85.3,439.1 L86.5,439.2 L87.7,439.4 L88.9,439.5 L90.1,439.7 L91.3,439.8 L92.4,440.0 L93.6,440.1 L94.8,440.3 L96.0,440.5 L97.2,440.7 L98.4,440.8 L99.5,441.0 L100.7,441.1 L101.9,441.3 L103.1,441.4 L104.3,441.5 L105.5,441.6 L106.7,441.7 L107.9,441.8 L109.1,441.9 L110.3,441.8 L111.5,441.8 L112.6,441.6 L113.7,441.2 L114.8,440.7 L115.8,440.1 L116.8,439.4 L117.7,438.6 L118.6,437.8 L119.4,436.9 L120.2,435.9 L121.0,435.0 L121.7,434.0 L122.4,433.1 L123.1,432.1 L123.9,431.2 L124.6,430.3 L125.4,429.4 L126.3,428.5 L127.2,427.7 L128.1,426.9 L129.1,426.3 L130.2,425.7 L131.2,425.3 L132.3,425.0 L133.5,424.9 L134.7,425.0 L135.9,425.1 L137.1,425.2 L138.3,425.4 L139.5,425.6 L140.7,425.7 L141.9,425.9 L143.1,426.1 L144.3,426.2 L145.5,426.4 L146.7,426.5 L147.9,426.7 L149.1,426.9 L150.2,427.0 L151.4,427.2 L152.6,427.3 L153.8,427.4 L155.0,427.6 L156.2,427.7 L157.3,427.8 L158.5,427.9 L159.7,428.1 L160.9,428.2 L162.1,428.3 L163.3,428.4 L164.5,428.5 L165.7,428.5 L166.9,428.6 L168.0,428.7 L169.2,428.8 L170.4,428.9 L171.6,428.9 L172.8,429.0 L174.0,429.0 L175.2,429.1 L176.4,429.2 L177.6,429.2 L178.8,429.2 L180.0,429.3 L181.2,429.3 L182.4,429.4 L183.6,429.4 L184.7,429.4 L185.9,429.4 L187.1,429.5 L188.3,429.5 L189.5,429.5 L190.7,429.5 L191.9,429.5 L193.1,429.5 L194.3,429.5 L195.5,429.6 L196.7,429.6 L197.9,429.6 L199.1,429.6 L200.3,429.6 L201.5,429.6 L202.7,429.5 L203.9,429.5 L205.1,429.5 L206.3,429.5 L207.5,429.5 L208.7,429.5 L209.9,429.5 L211.1,429.5 L212.3,429.5 L213.5,429.4 L214.7,429.4 L215.9,429.4 L217.1,429.4 L218.3,429.4 L219.5,429.4 L220.7,429.4 L221.9,429.3 L223.1,429.3 L224.3,429.3 L225.5,429.3 L226.7,429.3 L227.9,429.3 L229.1,429.2 L230.3,429.2 L231.5,429.2 L232.7,429.2 L233.9,429.2 L235.0,429.2 L236.2,429.2 L237.4,429.2 L238.6,429.2 L239.8,429.1 L241.0,429.1 L242.2,429.1 L243.4,429.1 L244.6,429.1 L245.8,429.1 L247.0,429.1 L248.2,429.1 L249.4,429.1 L250.6,429.1 L251.8,429.1 L253.0,429.1 L254.2,429.1 L255.4,429.1 L256.6,429.1 L257.8,429.1 L259.0,429.1 L260.1,429.1 L261.3,429.1 L262.5,429.1 L263.7,429.0 L264.9,429.0 L266.1,429.0 L267.3,429.0 L268.5,429.0 L269.7,429.0 L270.9,429.0 L272.1,429.0 L273.3,429.0 L274.5,429.0 L275.7,429.0 L276.9,429.0 L278.1,429.0 L279.3,429.0 L280.5,429.0 L281.7,429.0 L282.9,428.9 L284.0,428.9 L285.2,428.9 L286.4,428.9 L287.6,428.9 L288.8,428.9 L290.0,428.9 L291.2,428.8 L292.4,428.8 L293.6,428.8 L294.8,428.8 L296.0,428.8 L297.2,428.7 L298.4,428.7 L299.6,428.7 L300.8,428.7 L302.0,428.7 L303.2,428.6 L304.4,428.6 L306.4,428.5" stroke="#0000ff" stroke-width="2.55" stroke-dasharray="3.0 5.15" stroke-linecap="round"/>
<path d="M48.7,533.0 L50.7,533.1 L51.9,533.2 L53.1,533.2 L54.3,533.3 L55.5,533.4 L56.6,533.4 L57.8,533.5 L59.0,533.6 L60.2,533.7 L61.4,533.8 L62.6,533.9 L63.8,534.0 L65.0,534.1 L66.2,534.2 L67.4,534.3 L68.6,534.4 L69.8,534.6 L71.0,534.7 L72.2,534.9 L73.4,535.1 L74.6,535.2 L75.8,535.4 L77.0,535.6 L78.2,535.9 L79.3,536.1 L80.5,536.3 L81.7,536.6 L82.8,536.9 L84.0,537.2 L85.2,537.5 L86.3,537.8 L87.4,538.1 L88.6,538.5 L89.7,538.9 L90.8,539.3 L91.9,539.7 L93.1,540.1 L94.2,540.5 L95.3,540.9 L96.4,541.4 L97.5,541.8 L98.6,542.2 L99.8,542.7 L100.9,543.1 L102.1,543.5 L103.2,543.9 L104.4,544.3 L105.6,544.6 L106.8,544.9 L108.0,545.2 L109.2,545.4 L110.4,545.5 L111.5,545.4 L112.5,545.2 L113.5,544.8 L114.5,544.1 L115.3,543.3 L116.0,542.3 L116.7,541.3 L117.2,540.1 L117.7,539.0 L118.1,537.8 L118.4,536.6 L118.8,535.4 L119.1,534.3 L119.5,533.1 L119.8,531.9 L120.2,530.8 L120.5,529.6 L120.9,528.5 L121.2,527.4 L121.5,526.2 L121.9,525.1 L122.2,524.0 L122.5,522.8 L122.8,521.7 L123.1,520.5 L123.4,519.4 L123.7,518.2 L124.0,517.1 L124.3,515.9 L124.6,514.7 L124.9,513.6 L125.2,512.4 L125.6,511.2 L126.0,510.1 L126.4,509.0 L126.9,507.8 L127.4,506.7 L127.9,505.7 L128.5,504.6 L129.2,503.6 L129.9,502.6 L130.8,501.8 L131.8,501.1 L132.8,500.5 L133.9,500.1 L135.1,499.8 L136.2,499.8 L137.4,499.9 L138.5,500.2 L139.6,500.6 L140.6,501.1 L141.7,501.6 L142.8,502.2 L143.9,502.9 L145.0,503.5 L146.1,504.0 L147.2,504.6 L148.3,505.1 L149.4,505.5 L150.5,506.0 L151.7,506.4 L152.8,506.8 L153.9,507.2 L155.1,507.5 L156.2,507.9 L157.4,508.2 L158.5,508.5 L159.7,508.8 L160.9,509.0 L162.0,509.3 L163.2,509.5 L164.4,509.7 L165.6,509.9 L166.7,510.1 L167.9,510.3 L169.1,510.5 L170.3,510.7 L171.4,510.9 L172.6,511.0 L173.8,511.2 L175.0,511.3 L176.2,511.5 L177.4,511.6 L178.6,511.8 L179.7,511.9 L180.9,512.0 L182.1,512.1 L183.3,512.3 L184.5,512.4 L185.7,512.5 L186.9,512.6 L188.1,512.7 L189.3,512.8 L190.5,512.8 L191.7,512.9 L192.9,513.0 L194.1,513.1 L195.3,513.2 L196.5,513.2 L197.7,513.3 L198.9,513.3 L200.1,513.4 L201.3,513.5 L202.5,513.5 L203.7,513.6 L204.9,513.6 L206.1,513.6 L207.3,513.7 L208.5,513.7 L209.7,513.7 L210.9,513.8 L212.1,513.8 L213.3,513.8 L214.5,513.9 L215.7,513.9 L216.9,513.9 L218.1,513.9 L219.3,513.9 L220.5,514.0 L221.7,514.0 L222.9,514.0 L224.1,514.0 L225.3,514.0 L226.5,514.0 L227.7,514.0 L228.9,514.0 L230.1,514.1 L231.3,514.1 L232.5,514.1 L233.7,514.1 L234.9,514.1 L236.1,514.1 L237.3,514.1 L238.5,514.1 L239.7,514.1 L240.9,514.1 L242.1,514.1 L243.3,514.1 L244.5,514.1 L245.7,514.1 L246.9,514.1 L248.1,514.1 L249.3,514.1 L250.5,514.1 L251.7,514.1 L252.9,514.1 L254.1,514.1 L255.3,514.0 L256.5,514.0 L257.7,514.0 L258.9,514.0 L260.1,514.0 L261.3,514.0 L262.5,514.0 L263.6,514.0 L264.8,513.9 L266.0,513.9 L267.2,513.9 L268.4,513.9 L269.6,513.9 L270.8,513.8 L272.0,513.8 L273.2,513.8 L274.4,513.8 L275.6,513.7 L276.8,513.7 L278.0,513.7 L279.2,513.6 L280.4,513.6 L281.6,513.6 L282.8,513.5 L284.0,513.5 L285.2,513.5 L286.4,513.4 L287.6,513.4 L288.8,513.3 L290.0,513.3 L291.2,513.3 L292.4,513.2 L293.6,513.2 L294.8,513.1 L296.0,513.1 L297.2,513.0 L298.4,513.0 L299.6,512.9 L300.8,512.9 L302.0,512.8 L303.2,512.7 L304.4,512.7 L306.4,512.6" stroke="#ff0000" stroke-width="2.35"/>
</g>
<g stroke="#000" stroke-width="1.7" fill="none" stroke-linecap="butt">
<path d="M50.7,8.15 V557.4 M304.4,8.15 V557.4"/>
<path d="M49.95,8.9 H305.15"/>
<path d="M49.95,189.8 H305.15"/>
<path d="M49.95,370.9 H305.15"/>
<path d="M49.95,551.9 H305.15"/>
<path d="M93.0,8.9 v3.4 M93.0,186.4 v6.8 M93.0,370.9 v3.4 M93.0,551.9 v2.8 M135.3,8.9 v6.2 M135.3,183.60000000000002 v12.4 M135.3,370.9 v6.2 M135.3,551.9 v5.6000000000000005 M177.5,8.9 v3.4 M177.5,186.4 v6.8 M177.5,370.9 v3.4 M177.5,551.9 v2.8 M219.8,8.9 v6.2 M219.8,183.60000000000002 v12.4 M219.8,370.9 v6.2 M219.8,551.9 v5.6000000000000005 M262.1,8.9 v3.4 M262.1,186.4 v6.8 M262.1,370.9 v3.4 M262.1,551.9 v2.8 M50.7,177.7 h3.4 M304.4,177.7 h-3.4 M50.7,153.6 h6.2 M304.4,153.6 h-6.2 M50.7,129.5 h3.4 M304.4,129.5 h-3.4 M50.7,105.4 h6.2 M304.4,105.4 h-6.2 M50.7,81.3 h3.4 M304.4,81.3 h-3.4 M50.7,57.1 h6.2 M304.4,57.1 h-6.2 M50.7,33.0 h3.4 M304.4,33.0 h-3.4 M50.7,355.2 h6.2 M304.4,355.2 h-6.2 M50.7,339.4 h3.4 M304.4,339.4 h-3.4 M50.7,323.7 h6.2 M304.4,323.7 h-6.2 M50.7,307.9 h3.4 M304.4,307.9 h-3.4 M50.7,292.2 h6.2 M304.4,292.2 h-6.2 M50.7,276.4 h3.4 M304.4,276.4 h-3.4 M50.7,260.7 h6.2 M304.4,260.7 h-6.2 M50.7,244.9 h3.4 M304.4,244.9 h-3.4 M50.7,229.2 h6.2 M304.4,229.2 h-6.2 M50.7,213.4 h3.4 M304.4,213.4 h-3.4 M50.7,197.7 h6.2 M304.4,197.7 h-6.2 M50.7,533.8 h3.4 M304.4,533.8 h-3.4 M50.7,515.7 h6.2 M304.4,515.7 h-6.2 M50.7,497.6 h3.4 M304.4,497.6 h-3.4 M50.7,479.5 h6.2 M304.4,479.5 h-6.2 M50.7,461.4 h3.4 M304.4,461.4 h-3.4 M50.7,443.3 h6.2 M304.4,443.3 h-6.2 M50.7,425.2 h3.4 M304.4,425.2 h-3.4 M50.7,407.1 h6.2 M304.4,407.1 h-6.2 M50.7,389.0 h3.4 M304.4,389.0 h-3.4"/>
</g>
<path d="M50.7,292.0 H304.4" stroke="#000" stroke-width="1.4" fill="none"/>
<g font-family="'Liberation Sans', sans-serif" fill="#000">
<text transform="translate(44.90,15.05) scale(1.096,1.04)" font-size="17.2" text-anchor="end" stroke="#000" stroke-width="0.3">0</text>
<text transform="translate(44.90,63.29) scale(1.096,1.04)" font-size="17.2" text-anchor="end" stroke="#000" stroke-width="0.3">-2</text>
<text transform="translate(44.90,111.53) scale(1.096,1.04)" font-size="17.2" text-anchor="end" stroke="#000" stroke-width="0.3">-4</text>
<text transform="translate(44.90,159.77) scale(1.096,1.04)" font-size="17.2" text-anchor="end" stroke="#000" stroke-width="0.3">-6</text>
<text transform="translate(44.90,203.82) scale(1.096,1.04)" font-size="17.2" text-anchor="end" stroke="#000" stroke-width="0.3">6</text>
<text transform="translate(44.90,235.32) scale(1.096,1.04)" font-size="17.2" text-anchor="end" stroke="#000" stroke-width="0.3">4</text>
<text transform="translate(44.90,266.82) scale(1.096,1.04)" font-size="17.2" text-anchor="end" stroke="#000" stroke-width="0.3">2</text>
<text transform="translate(44.90,298.31) scale(1.096,1.04)" font-size="17.2" text-anchor="end" stroke="#000" stroke-width="0.3">0</text>
<text transform="translate(44.90,329.81) scale(1.096,1.04)" font-size="17.2" text-anchor="end" stroke="#000" stroke-width="0.3">-2</text>
<text transform="translate(44.90,361.30) scale(1.096,1.04)" font-size="17.2" text-anchor="end" stroke="#000" stroke-width="0.3">-4</text>
<text transform="translate(44.90,377.05) scale(1.096,1.04)" font-size="17.2" text-anchor="end" stroke="#000" stroke-width="0.3">0</text>
<text transform="translate(44.90,413.25) scale(1.096,1.04)" font-size="17.2" text-anchor="end" stroke="#000" stroke-width="0.3">-2</text>
<text transform="translate(44.90,449.45) scale(1.096,1.04)" font-size="17.2" text-anchor="end" stroke="#000" stroke-width="0.3">-4</text>
<text transform="translate(44.90,485.65) scale(1.096,1.04)" font-size="17.2" text-anchor="end" stroke="#000" stroke-width="0.3">-6</text>
<text transform="translate(44.90,521.85) scale(1.096,1.04)" font-size="17.2" text-anchor="end" stroke="#000" stroke-width="0.3">-8</text>
<text transform="translate(44.50,557.50) scale(1.06,1.04)" font-size="17.2" text-anchor="end" stroke="#000" stroke-width="0.3">-10</text>
<text transform="translate(50.70,575.70) scale(1.096,1.04)" font-size="17.2" text-anchor="middle" stroke="#000" stroke-width="0.3">9.85</text>
<text transform="translate(135.27,575.70) scale(1.096,1.04)" font-size="17.2" text-anchor="middle" stroke="#000" stroke-width="0.3">9.90</text>
<text transform="translate(219.83,575.70) scale(1.096,1.04)" font-size="17.2" text-anchor="middle" stroke="#000" stroke-width="0.3">9.95</text>
<text transform="translate(305.00,575.70) scale(1.05,1.04)" font-size="17.2" text-anchor="middle" stroke="#000" stroke-width="0.3">10.00</text>
<text transform="translate(86.20,604.90) scale(1.004,1.04)" font-size="23.7">Frequency (GHz)</text>
<text transform="translate(19.40,123.80) rotate(-90) scale(1.0,1.04)" font-size="23.7">Re(n)</text>
<text transform="translate(17.90,319.20) rotate(-90) scale(1.0,1.04)" font-size="23.7">Re(</text>
<text transform="translate(17.90,281.22) rotate(-90) scale(1.12,1.04)" font-size="23.7">μ</text>
<text transform="translate(17.90,265.73) rotate(-90) scale(1.0,1.04)" font-size="23.7">)</text>
<text transform="translate(22.60,497.80) rotate(-90) scale(1.0,1.04)" font-size="23.7">Re(</text>
<text transform="translate(22.60,459.92) rotate(-90) scale(1.14,1.04)" font-size="23.7">ε</text>
<text transform="translate(22.60,447.27) rotate(-90) scale(1.0,1.04)" font-size="23.7">)</text>
<text transform="translate(266.90,168.10)" font-size="22.7">(a)</text>
<text transform="translate(266.90,354.70)" font-size="22.7">(b)</text>
<text transform="translate(267.40,541.20)" font-size="22.7">(c)</text>
</g>
</svg>
</body></html>
